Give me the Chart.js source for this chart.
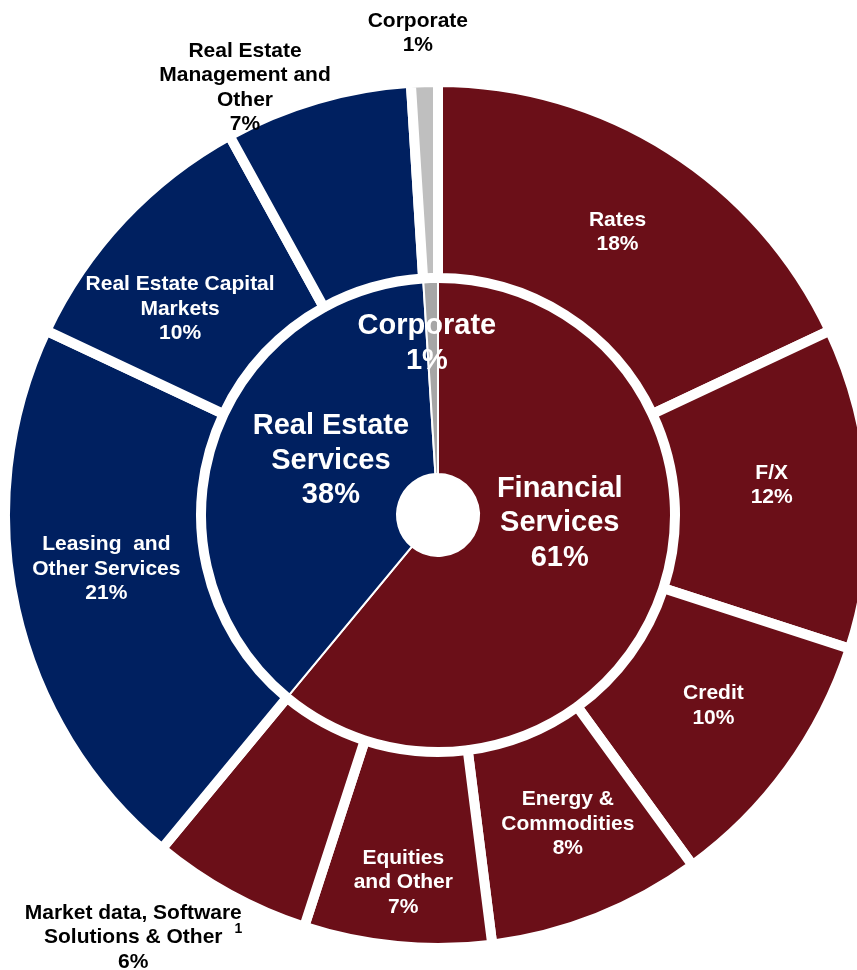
<!DOCTYPE html>
<html>
<head>
<meta charset="utf-8">
<script src="https://cdn.jsdelivr.net/npm/chart.js@4.4.1/dist/chart.umd.min.js"></script>
<style>
  html, body { margin: 0; padding: 0; background: #fff; overflow: hidden; }
  canvas { display: block; }
</style>
</head>
<body>
<canvas id="revenueMix" width="876" height="970"></canvas>
<script>
// outer ring: business lines, clockwise from 12 o'clock
const segmentNames = [
  ["Rates"],
  ["F/X"],
  ["Credit"],
  ["Energy &", "Commodities"],
  ["Equities", "and Other"],
  ["Market data, Software", "Solutions & Other"],
  ["Leasing  and", "Other Services"],
  ["Real Estate Capital", "Markets"],
  ["Real Estate", "Management and", "Other"],
  ["Corporate"]
];
const segmentShares = [18, 12, 10, 8, 7, 6, 21, 10, 7, 1];
const segmentDivision = [0, 0, 0, 0, 0, 0, 1, 1, 1, 2];
const segmentNotes = ["", "", "", "", "", "1", "", "", "", ""];

// inner pie: divisions
const divisionNames = [["Financial", "Services"], ["Real Estate", "Services"], ["Corporate"]];
const divisionShares = [61, 38, 1];

const outerColors = ["#6B0F18", "#002060", "#BFBFBF"];
const innerColors = ["#6B0F18", "#002060", "#A6A6A6"];
const FONT = '"Liberation Sans", Arial, sans-serif';

// label placement: angle nudge (deg) and distance from centre (px); null = middle of the slice
const outerSpots = [
  null,
  { da: -1.5 },
  { da: -1.3 },
  { da: -1.2 },
  { da: 0, r: 369 },
  { da: 7, r: 521, outside: true },
  { da: 3.4, r: 336 },
  { da: -4.6, r: 330 },
  { da: -8.1, r: 469, outside: true },
  { da: -0.6, r: 482, outside: true }
];
const innerSpots = [
  { da: -16, r: 122 },
  { da: 8.8, r: 120 },
  { da: -1.9, r: 172 }
];

const labelSets = [
  { names: segmentNames, shares: segmentShares, notes: segmentNotes, spots: outerSpots, size: 21, lineH: 24.5 },
  { names: divisionNames, shares: divisionShares, notes: [], spots: innerSpots, size: 29, lineH: 34.5 }
];

const sliceLabels = {
  id: 'sliceLabels',
  afterDatasetsDraw(chart) {
    const ctx = chart.ctx;
    ctx.save();
    ctx.textBaseline = 'middle';
    labelSets.forEach((set, di) => {
      const meta = chart.getDatasetMeta(di);
      meta.data.forEach((arc, i) => {
        const p = arc.getProps(['x', 'y', 'startAngle', 'endAngle', 'innerRadius', 'outerRadius'], true);
        const spot = set.spots[i] || {};
        const ang = (p.startAngle + p.endAngle) / 2 + (spot.da || 0) * Math.PI / 180;
        const r = spot.r || (p.innerRadius + p.outerRadius) / 2;
        const cx = p.x + Math.cos(ang) * r;
        const cy = p.y + Math.sin(ang) * r;
        const lines = set.names[i].concat([set.shares[i] + '%']);
        const top = cy - (lines.length - 1) * set.lineH / 2;
        ctx.fillStyle = spot.outside ? '#000000' : '#FFFFFF';
        lines.forEach((line, k) => {
          const ly = top + k * set.lineH;
          ctx.font = 'bold ' + set.size + 'px ' + FONT;
          ctx.textAlign = 'center';
          ctx.fillText(line, cx, ly);
          const note = (k === lines.length - 2) ? set.notes[i] : '';
          if (note) {
            // footnote marker raised after the text
            const w1 = ctx.measureText(line).width;
            ctx.font = 'bold 14px ' + FONT;
            ctx.textAlign = 'left';
            ctx.fillText(note, cx + w1 / 2 + 12, ly - 8);
          }
        });
      });
    });
    ctx.restore();
  }
};

const data = {
  labels: segmentNames.map(n => n.join(' ')),
  datasets: [
    {
      label: 'Business lines',
      data: segmentShares,
      backgroundColor: segmentDivision.map(d => outerColors[d]),
      borderColor: '#FFFFFF',
      borderWidth: 10,
      hoverBorderWidth: 10,
      hoverOffset: 0,
      weight: 1
    },
    {
      label: 'Divisions',
      data: divisionShares,
      backgroundColor: innerColors,
      borderColor: '#FFFFFF',
      borderWidth: 2,
      hoverBorderWidth: 2,
      hoverOffset: 0,
      weight: 1
    }
  ]
};

const config = {
  type: 'doughnut',
  data: data,
  options: {
    responsive: false,
    animation: false,
    cutout: 41,
    layout: { padding: { top: 77, bottom: 17, left: 0, right: 0 } },
    plugins: {
      legend: { display: false },
      tooltip: { enabled: false }
    }
  },
  plugins: [sliceLabels]
};

const ctx = document.getElementById('revenueMix').getContext('2d');
const revenueMix = new Chart(ctx, config);
</script>
</body>
</html>
